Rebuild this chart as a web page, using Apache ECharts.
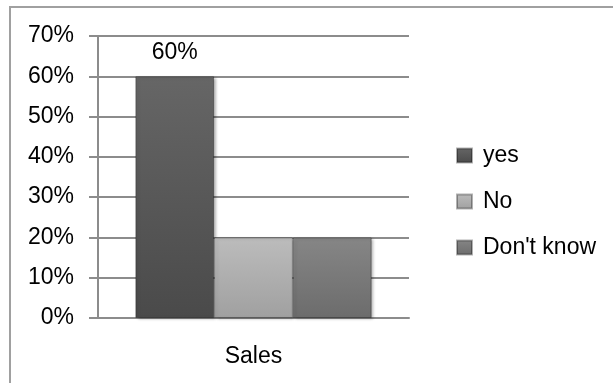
<!DOCTYPE html>
<html>
<head>
<meta charset="utf-8">
<script src="https://cdn.jsdelivr.net/npm/echarts@6/dist/echarts.min.js"></script>
<style>
  html, body { margin: 0; padding: 0; background: #fff; }
  #chart { width: 613px; height: 383px; }
</style>
</head>
<body>
<div id="chart"></div>
<script>
const categories = ['Sales']
const seriesNames = ['yes', 'No', "Don't know"]
const seriesValues = [[60], [20], [20]]
const yTicks = [0, 70, 10] // min, max, step

const fills = [
  ['#666666', '#4a4a4a'],
  ['#bcbcbc', '#a0a0a0'],
  ['#868686', '#6c6c6c'],
]
const font = 'Liberation Sans'

const chart = echarts.init(document.getElementById('chart'))
chart.setOption({
  animation: false,
  graphic: [{
    type: 'rect',
    shape: { x: 10, y: 7, width: 700, height: 500 },
    style: { fill: 'none', stroke: '#a0a0a0', lineWidth: 2 },
    z: -1,
  }],
  grid: { left: 98, right: 204, top: 36, bottom: 65 },
  legend: {
    orient: 'vertical',
    left: 451,
    top: 139,
    itemWidth: 15,
    itemHeight: 14,
    itemGap: 23,
    icon: 'rect',
    textStyle: { fontFamily: font, fontSize: 23, color: '#000', padding: [0, 0, 0, 6] },
    data: seriesNames,
  },
  xAxis: {
    type: 'category',
    data: categories,
    axisLine: { lineStyle: { color: '#8c8c8c', width: 2 } },
    axisTick: { length: 9, lineStyle: { color: '#8c8c8c', width: 2 } },
    axisLabel: { fontFamily: font, fontSize: 23, color: '#000', margin: 27 },
  },
  yAxis: {
    type: 'value',
    min: yTicks[0],
    max: yTicks[1],
    interval: yTicks[2],
    axisLine: { show: true, lineStyle: { color: '#8c8c8c', width: 2 } },
    axisTick: { show: true, length: 9, lineStyle: { color: '#8c8c8c', width: 2 } },
    splitLine: { lineStyle: { color: '#8c8c8c', width: 2 } },
    axisLabel: { fontFamily: font, fontSize: 23, color: '#000', margin: 24, formatter: '{value}%' },
  },
  series: seriesNames.map((name, i) => ({
    name,
    type: 'bar',
    data: seriesValues[i],
    barGap: '0%',
    barCategoryGap: '24%',
    itemStyle: {
      color: new echarts.graphic.LinearGradient(0, 0, 0, 1, [
        { offset: 0, color: fills[i][0] },
        { offset: 1, color: fills[i][1] },
      ]),
      borderColor: 'rgba(0,0,0,0.3)',
      borderWidth: 1,
      shadowColor: 'rgba(0,0,0,0.35)',
      shadowBlur: 3,
      shadowOffsetX: 2,
      shadowOffsetY: 1,
    },
    label: {
      show: i === 0,
      position: 'top',
      distance: 12,
      formatter: '{c}%',
      fontFamily: font,
      fontSize: 23,
      color: '#000',
    },
  })),
})
</script>
</body>
</html>
